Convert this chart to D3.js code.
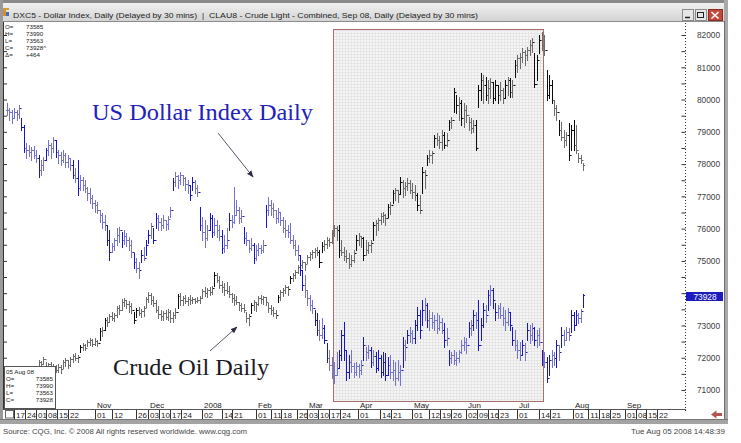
<!DOCTYPE html>
<html>
<head>
<meta charset="utf-8">
<script src="https://cdnjs.cloudflare.com/ajax/libs/d3/7.8.5/d3.min.js"></script>
<style>
  body { margin: 0; background: #fff; }
  svg { display: block; font-family: "Liberation Sans", Arial, sans-serif; }
</style>
</head>
<body>
<script>
'use strict';

// first daily bar and the first labelled day of the date axis
const firstBarDate = '2007-09-10';
const axisStartDate = '2007-09-17';
const axisEndIndex = 265; // trading days from axis start to 22 Sep 2008

// US Dollar Index (DXC5), daily, in thousands of index points
const usdHigh = [
  79.90,79.74,79.68,79.74,79.68,79.83,79.43,79.21,78.66,78.59,
  78.53,78.56,78.44,78.28,78.13,78.22,78.50,78.75,78.66,78.84,
  78.75,78.44,78.38,78.44,78.35,78.28,78.19,78.13,77.88,78.13,
  77.67,77.60,77.51,77.29,77.26,77.05,76.89,76.83,76.58,76.49,
  76.43,76.12,75.96,75.56,75.72,76.03,76.06,75.90,75.96,75.87,
  75.75,75.65,75.25,75.09,74.97,75.34,75.44,75.65,75.96,76.18,
  76.03,76.49,76.43,76.33,76.43,76.27,76.40,76.67,77.57,77.76,
  77.67,77.76,77.67,77.60,77.51,77.36,77.60,77.51,77.36,76.67,
  76.36,76.27,76.12,76.49,76.43,76.33,76.27,76.12,75.96,75.81,
  76.03,76.49,76.43,77.29,76.89,76.67,76.58,76.06,75.90,75.65,
  75.72,75.56,75.50,75.56,75.50,75.65,76.74,76.98,76.89,76.80,
  76.58,76.64,76.52,76.36,76.27,76.12,76.18,75.81,75.65,75.50,
  75.19,74.72,74.57,74.11,73.95,73.80,73.49,73.39,73.18,73.24,
  73.02,72.46,72.25,72.03,71.88,72.19,72.25,72.87,73.12,72.25,
  72.09,72.25,71.85,71.88,71.81,71.94,72.65,72.34,72.40,72.34,
  72.25,72.19,72.25,72.09,72.19,72.16,72.03,72.09,71.94,71.88,
  71.94,71.78,72.65,72.56,72.87,72.96,72.87,73.18,73.58,73.49,
  73.80,73.86,73.70,73.49,73.42,73.33,73.39,73.33,73.24,73.08,
  72.93,72.25,72.19,72.25,72.19,72.25,72.56,72.65,72.62,73.12,
  73.18,73.49,73.42,73.80,73.24,73.70,73.64,74.11,74.26,74.17,
  73.70,73.64,73.70,73.58,73.49,73.55,73.42,72.96,72.87,72.56,
  72.49,72.56,72.46,73.08,73.02,73.08,72.96,72.87,72.93,72.25,
  72.19,72.03,72.09,72.25,72.19,72.56,72.40,72.96,72.87,72.96,
  72.93,73.49,73.42,73.49,73.39,73.52,73.99
];
const usdLow = [
  79.52,79.37,79.28,79.43,79.37,79.43,79.06,78.38,78.19,78.25,
  78.13,78.19,78.07,77.60,77.67,77.82,78.13,78.28,78.19,78.38,
  78.22,78.04,77.98,78.07,77.91,77.91,77.82,77.57,77.45,77.05,
  77.20,77.20,77.14,76.89,76.80,76.64,76.52,76.49,76.21,76.03,
  75.96,75.50,75.03,75.28,75.34,75.50,75.59,75.44,75.53,75.47,
  75.34,75.12,74.78,74.66,74.47,74.97,75.03,75.19,75.56,75.72,
  75.56,76.03,75.96,75.96,76.03,75.96,75.99,76.36,77.20,77.33,
  77.26,77.39,77.36,77.20,77.11,76.89,77.20,77.11,77.02,75.96,
  75.65,75.44,75.65,75.96,75.75,75.81,75.75,75.65,75.25,75.28,
  75.40,75.96,76.06,76.18,76.43,76.18,76.21,75.56,75.50,75.28,
  75.34,74.94,75.03,75.19,75.25,75.28,76.06,76.43,76.43,76.36,
  76.18,76.21,76.12,75.90,75.75,75.75,75.56,75.40,75.19,75.03,
  74.57,74.11,73.89,73.64,73.49,73.39,73.02,72.71,72.56,72.62,
  72.46,71.88,71.63,71.38,71.22,71.47,71.69,71.94,71.94,71.32,
  71.38,71.57,71.41,71.47,71.41,71.50,71.94,71.94,72.00,71.72,
  71.78,71.57,71.63,71.41,71.47,71.32,71.47,71.38,71.32,71.16,
  71.32,71.16,71.72,71.94,72.46,72.49,72.46,72.46,72.87,72.62,
  73.02,73.18,72.96,72.87,72.93,72.87,72.77,72.87,72.77,72.34,
  72.40,71.78,71.85,71.81,71.78,71.88,72.16,72.25,72.16,72.65,
  72.71,72.87,72.93,72.25,72.56,72.96,73.12,73.49,73.64,73.55,
  73.18,73.24,73.24,73.02,72.87,73.02,72.87,72.40,72.25,72.00,
  71.94,72.09,71.94,72.56,72.46,72.56,72.40,72.34,72.40,71.78,
  71.72,71.26,71.47,71.72,71.78,71.72,71.94,72.34,72.40,72.56,
  72.56,72.80,72.87,73.02,73.08,73.12,73.56
];
const usdClose = [
  79.68,79.62,79.43,79.62,79.56,79.74,79.15,78.50,78.44,78.38,
  78.44,78.28,78.19,77.82,77.98,78.13,78.44,78.59,78.50,78.75,
  78.38,78.28,78.13,78.28,78.07,78.19,77.98,77.67,77.57,77.26,
  77.51,77.36,77.26,77.11,76.95,76.80,76.74,76.58,76.43,76.21,
  76.12,75.65,75.28,75.47,75.65,75.81,75.96,75.65,75.78,75.65,
  75.50,75.28,74.97,74.78,74.72,75.19,75.09,75.50,75.81,76.09,
  75.65,76.33,76.21,76.12,76.27,76.15,76.30,76.58,77.45,77.64,
  77.51,77.67,77.57,77.39,77.36,77.05,77.45,77.26,77.14,76.12,
  75.90,75.72,75.96,76.33,75.90,76.12,75.96,75.78,75.40,75.50,
  75.65,76.27,76.21,76.43,76.58,76.33,76.40,75.72,75.65,75.40,
  75.50,75.09,75.34,75.40,75.34,75.50,76.58,76.74,76.64,76.58,
  76.33,76.52,76.27,76.03,75.96,75.90,75.65,75.50,75.34,75.19,
  74.72,74.26,74.11,73.86,73.64,73.55,73.18,72.87,72.71,72.93,
  72.56,72.00,71.78,71.63,71.47,71.69,72.09,72.71,72.25,71.57,
  71.88,71.75,71.57,71.75,71.63,71.78,72.40,72.19,72.25,71.88,
  72.06,71.69,72.00,71.57,71.88,71.47,71.78,71.57,71.63,71.38,
  71.57,71.63,72.40,72.34,72.71,72.77,72.62,73.02,73.33,72.87,
  73.49,73.64,73.18,73.24,73.12,73.18,72.93,73.12,72.87,72.56,
  72.62,72.00,72.09,71.94,72.00,72.19,72.40,72.49,72.40,72.93,
  73.02,73.33,73.18,72.40,73.02,73.49,73.33,73.95,74.11,73.80,
  73.42,73.55,73.33,73.24,73.12,73.42,73.02,72.56,72.40,72.25,
  72.09,72.40,72.19,72.87,72.71,72.93,72.56,72.71,72.49,71.94,
  71.88,71.38,71.94,72.09,72.00,72.40,72.19,72.71,72.56,72.80,
  72.71,73.33,73.02,73.33,73.24,73.46,73.93
];

// Crude Light (CLAU8), daily, drawn on the same right-hand scale
const oilHigh = [
  71.60,71.62,71.58,71.52,71.60,71.64,71.58,71.50,71.60,71.64,
  71.58,71.66,71.70,71.94,71.91,72.03,71.88,71.85,71.88,71.81,
  71.78,71.81,71.78,71.94,72.00,71.94,72.03,72.12,72.16,72.09,
  72.40,72.46,72.43,72.56,72.62,72.59,72.62,72.56,72.93,72.96,
  73.24,73.27,73.36,73.42,73.39,73.61,73.64,73.83,73.86,73.80,
  73.77,73.70,73.42,73.55,73.58,73.52,73.61,73.89,74.04,74.01,
  73.92,73.80,73.61,73.49,73.46,73.49,73.52,73.49,73.42,73.55,
  73.98,74.01,73.92,73.95,73.89,73.95,73.89,73.86,73.89,73.92,
  74.14,74.20,74.17,74.20,74.23,74.66,74.63,74.54,74.38,74.32,
  74.35,74.23,74.01,73.98,73.92,73.73,73.70,73.67,73.42,73.36,
  73.70,73.80,73.73,73.92,73.95,73.92,73.89,73.70,73.64,73.58,
  73.49,73.95,74.11,74.17,74.26,74.23,74.54,74.63,74.72,74.88,
  74.94,75.03,74.97,75.19,75.28,75.34,75.40,75.44,75.34,75.59,
  75.65,75.75,75.72,75.96,76.12,76.09,76.12,75.65,75.44,75.34,
  75.25,75.19,75.34,75.81,75.87,75.78,75.75,75.65,75.59,75.65,
  76.21,76.27,76.33,76.49,76.52,76.46,76.77,76.83,77.20,77.26,
  77.20,77.60,77.51,77.45,77.57,77.51,77.42,77.36,77.11,77.05,
  77.91,77.82,78.28,78.44,78.41,78.90,78.97,78.87,79.06,79.00,
  78.97,79.37,79.46,80.36,80.14,80.08,79.99,79.90,79.83,79.46,
  79.43,79.37,79.37,80.45,80.82,80.76,80.70,80.61,80.67,80.55,
  80.61,80.45,80.55,80.36,80.61,80.70,80.67,80.61,81.23,81.38,
  81.44,81.60,81.54,81.63,81.85,81.91,81.44,81.38,82.00,82.09,
  82.00,80.92,80.76,80.61,79.99,79.83,79.37,79.31,79.06,79.00,
  79.28,79.21,79.37,79.21,78.35,78.28,78.04
];
const oilLow = [
  71.30,71.35,71.28,71.22,71.36,71.40,71.30,71.24,71.38,71.42,
  71.34,71.42,71.50,71.72,71.69,71.81,71.63,71.63,71.69,71.60,
  71.57,71.57,71.54,71.69,71.75,71.69,71.75,71.88,71.94,71.88,
  72.19,72.25,72.25,72.37,72.40,72.37,72.40,72.37,72.56,72.68,
  72.87,72.99,73.12,73.18,73.15,73.27,73.36,73.49,73.61,73.55,
  73.42,73.39,73.08,73.27,73.33,73.27,73.30,73.58,73.73,73.67,
  73.61,73.42,73.24,73.18,73.18,73.21,73.18,73.12,73.12,73.24,
  73.55,73.64,73.64,73.70,73.64,73.67,73.70,73.70,73.73,73.70,
  73.86,73.92,73.89,73.95,73.98,74.23,74.35,74.17,74.04,73.95,
  74.01,73.89,73.73,73.64,73.67,73.49,73.46,73.42,73.12,73.02,
  73.39,73.49,73.46,73.64,73.70,73.67,73.64,73.42,73.36,73.30,
  73.24,73.73,73.80,73.92,74.01,73.95,74.32,74.38,74.47,74.63,
  74.69,74.78,74.72,74.94,75.03,75.09,75.12,75.19,74.81,75.28,
  75.34,75.40,75.47,75.56,75.78,75.65,75.12,75.19,75.03,74.97,
  74.78,74.85,74.97,75.34,75.50,75.44,75.03,75.19,75.25,75.28,
  75.65,75.81,75.96,76.15,76.21,76.12,76.36,76.46,76.80,76.89,
  76.83,77.08,76.98,77.05,77.20,77.11,76.95,76.89,76.58,76.49,
  77.11,77.26,77.98,78.07,78.04,78.53,78.59,78.50,78.44,78.50,
  78.56,79.06,79.12,79.62,79.59,79.37,79.21,79.15,79.31,79.06,
  78.97,79.00,78.44,79.77,79.99,79.90,79.99,79.90,80.05,79.90,
  79.99,79.90,79.99,79.90,80.05,80.14,80.08,80.08,80.70,80.85,
  80.98,81.16,81.07,81.23,81.38,81.47,80.39,80.61,81.44,81.54,
  81.38,79.99,80.05,79.90,79.52,79.37,78.90,78.75,78.53,78.59,
  78.13,78.44,78.44,78.35,78.07,78.04,77.82
];
const oilClose = [
  71.48,71.55,71.40,71.45,71.55,71.50,71.36,71.44,71.56,71.52,
  71.48,71.62,71.66,71.88,71.81,71.97,71.75,71.81,71.75,71.69,
  71.63,71.72,71.66,71.88,71.94,71.78,71.97,72.06,72.00,72.03,
  72.34,72.40,72.31,72.49,72.56,72.43,72.53,72.46,72.84,72.87,
  73.18,73.12,73.30,73.24,73.33,73.55,73.49,73.73,73.80,73.67,
  73.61,73.49,73.18,73.49,73.39,73.46,73.55,73.83,73.95,73.80,
  73.70,73.49,73.36,73.30,73.39,73.27,73.42,73.24,73.33,73.42,
  73.92,73.80,73.86,73.77,73.83,73.80,73.83,73.77,73.80,73.86,
  74.08,74.01,74.11,74.04,74.17,74.57,74.41,74.26,74.20,74.11,
  74.08,73.98,73.86,73.80,73.73,73.64,73.55,73.49,73.24,73.30,
  73.64,73.73,73.67,73.86,73.83,73.89,73.73,73.55,73.49,73.39,
  73.33,73.89,74.04,74.11,74.20,74.14,74.48,74.57,74.66,74.81,
  74.88,74.97,74.91,75.12,75.22,75.28,75.34,75.28,74.97,75.47,
  75.53,75.65,75.59,75.87,76.03,75.96,75.34,75.28,75.16,75.09,
  74.91,75.03,75.25,75.65,75.78,75.72,75.19,75.34,75.50,75.56,
  76.12,76.18,76.27,76.40,76.43,76.33,76.67,76.74,77.11,77.20,
  77.08,77.45,77.26,77.33,77.42,77.20,77.14,77.05,76.74,76.58,
  77.76,77.67,78.19,78.28,78.35,78.81,78.75,78.69,78.90,78.59,
  78.75,79.31,79.37,80.24,79.83,79.89,79.43,79.68,79.52,79.31,
  79.12,79.21,78.50,80.30,80.61,80.45,80.14,80.36,80.55,80.05,
  80.45,80.14,80.30,80.05,80.45,80.61,80.24,80.45,81.07,81.29,
  81.32,81.47,81.38,81.54,81.69,81.78,80.48,81.23,81.85,81.69,
  81.54,80.14,80.45,79.99,79.74,79.62,79.06,78.84,78.75,78.90,
  78.28,79.06,78.59,78.44,78.19,78.13,77.98
];

// date axis
const dayTicks = [
  '2007-09-17','2007-09-24','2007-10-01','2007-10-08','2007-10-15','2007-10-22',
  '2007-11-01','2007-11-12','2007-11-26','2007-12-03','2007-12-10','2007-12-17','2007-12-24',
  '2008-01-02','2008-01-14','2008-01-21','2008-02-01','2008-02-11','2008-02-18','2008-02-26',
  '2008-03-03','2008-03-10','2008-03-17','2008-03-24','2008-04-01','2008-04-14','2008-04-21',
  '2008-05-01','2008-05-12','2008-05-19','2008-05-26','2008-06-02','2008-06-09','2008-06-16',
  '2008-06-23','2008-07-01','2008-07-14','2008-07-21','2008-08-01','2008-08-11','2008-08-18',
  '2008-08-25','2008-09-01','2008-09-08','2008-09-15','2008-09-22'
];
const monthTickDates = ['2007-11-01','2007-12-03','2008-01-02','2008-02-01','2008-03-03','2008-04-01',
  '2008-05-01','2008-06-02','2008-07-01','2008-08-01','2008-09-01'];
const monthTickLabels = ['Nov','Dec','2008','Feb','Mar','Apr','May','Jun','Jul','Aug','Sep'];

// shaded period
const highlightDates = ['2008-03-13', '2008-07-14'];

// readouts
const titleLeft = 'DXC5 - Dollar Index, Daily (Delayed by 30 mins)';
const titleRight = 'CLAU8 - Crude Light - Combined, Sep 08, Daily (Delayed by 30 mins)';
const cursorLabels = ['O=', 'H=', 'L=', 'C=', '\u0394='];
const cursorValues = ['73585', '73990', '73563', '73928^', ' +464'];
const boxDate = '05  Aug  08';
const boxLabels = ['O=', 'H=', 'L=', 'C='];
const boxValues = ['73585', '73990', '73563', '73928'];
const lastUsdValue = 73.928;
const sourceText = 'Source: CQG, Inc. \u00a9 2008 All rights reserved worldwide. www.cqg.com';
const stampText = 'Tue Aug 05 2008 14:48:39';

// annotations, in (trading day, value)
const usdNote = { text: 'US Dollar Index Daily', t: 29.9, v: 79.37 };
const usdArrow = [[81.5, 78.96], [95.8, 77.6]];
const oilNote = { text: 'Crude Oil Daily', t: 38.5, v: 71.46 };
const oilArrow = [[78.2, 72.21], [89.2, 72.95]];

const width = 741, height = 443;
const plotTop = 22, plotBottom = 409, axisX = 685, frameRight = 724;

const parseDate = d3.timeParse('%Y-%m-%d');
const isWeekday = d => d.getDay() !== 0 && d.getDay() !== 6;
const axisStart = parseDate(axisStartDate);

function tradingIndex(date) {
  if (date >= axisStart) return d3.timeDay.range(axisStart, date).filter(isWeekday).length;
  return -d3.timeDay.range(date, axisStart).filter(isWeekday).length;
}

const firstBar = parseDate(firstBarDate);
const barDates = d3.timeDay.range(firstBar, d3.timeDay.offset(firstBar, 400))
  .filter(isWeekday).slice(0, usdClose.length);

const xScale = d3.scaleLinear().domain([0, axisEndIndex]).range([19, 19 + axisEndIndex * 2.443]);
const yScale = d3.scaleLinear().domain([71, 82]).range([390, 35]);

const svg = d3.select('body').append('svg')
  .attr('width', width)
  .attr('height', height);

const defs = svg.append('defs');
const titleGrad = defs.append('linearGradient').attr('id', 'titleGrad')
  .attr('x1', 0).attr('y1', 0).attr('x2', 0).attr('y2', 1);
titleGrad.append('stop').attr('offset', '0%').attr('stop-color', '#f1f1f1');
titleGrad.append('stop').attr('offset', '100%').attr('stop-color', '#d3d3d3');

const grid = defs.append('pattern').attr('id', 'dotGrid')
  .attr('width', 3).attr('height', 3).attr('patternUnits', 'userSpaceOnUse');
grid.append('rect').attr('width', 3).attr('height', 3).attr('fill', '#f6f6f6');
grid.append('rect').attr('width', 3).attr('height', 1).attr('fill', '#e5e5e5');
grid.append('rect').attr('width', 1).attr('height', 3).attr('fill', '#e5e5e5');

defs.append('marker').attr('id', 'head')
  .attr('viewBox', '0 0 10 10').attr('refX', 9).attr('refY', 5)
  .attr('markerWidth', 7).attr('markerHeight', 7)
  .attr('markerUnits', 'userSpaceOnUse').attr('orient', 'auto')
  .append('path').attr('d', 'M0,1 L10,5 L0,9 z').attr('fill', '#2b2b45');

// ---------- window chrome ----------
svg.append('rect').attr('x', 0).attr('y', 0).attr('width', frameRight + 4).attr('height', 3).attr('fill', '#8a8a8a');
svg.append('rect').attr('x', 0).attr('y', 3).attr('width', frameRight + 4).attr('height', 18).attr('fill', 'url(#titleGrad)');
svg.append('line').attr('x1', 0).attr('x2', frameRight + 4).attr('y1', 21.5).attr('y2', 21.5).attr('stroke', '#8c8c8c');

// title icon
svg.append('rect').attr('x', 3).attr('y', 10).attr('width', 3).attr('height', 6).attr('fill', '#e08a2a');
svg.append('rect').attr('x', 6).attr('y', 12).attr('width', 3).attr('height', 4).attr('fill', '#3a6fc0');
svg.append('rect').attr('x', 3).attr('y', 8).attr('width', 6).attr('height', 2).attr('fill', '#c8a040');

svg.append('text').attr('x', 13).attr('y', 17.5).attr('font-size', 8)
  .attr('textLength', 184).attr('lengthAdjust', 'spacingAndGlyphs')
  .attr('fill', '#1e1e1e').text(titleLeft);
svg.append('text').attr('x', 202).attr('y', 17.5).attr('font-size', 8).attr('fill', '#1e1e1e').text('|');
svg.append('text').attr('x', 209).attr('y', 17.5).attr('font-size', 8)
  .attr('textLength', 269).attr('lengthAdjust', 'spacingAndGlyphs')
  .attr('fill', '#1e1e1e').text(titleRight);

// window buttons
[[682, '#e6e6e6'], [695, '#e6e6e6'], [708, '#c4483c']].forEach(function(b, k) {
  svg.append('rect').attr('x', b[0] + 0.5).attr('y', 9.5).attr('width', k === 2 ? 14 : 11).attr('height', 11)
    .attr('fill', b[1]).attr('stroke', k === 2 ? '#8a2a22' : '#8c8c8c');
});
svg.append('line').attr('x1', 685).attr('x2', 690).attr('y1', 17.5).attr('y2', 17.5).attr('stroke', '#222').attr('stroke-width', 1.5);
svg.append('rect').attr('x', 697.5).attr('y', 12.5).attr('width', 6).attr('height', 5).attr('fill', 'none').attr('stroke', '#222');
svg.append('path').attr('d', 'M711.5,12 L718.5,18.5 M718.5,12 L711.5,18.5').attr('stroke', '#fff').attr('stroke-width', 1.6);

// frame borders
svg.append('rect').attr('x', 0).attr('y', 0).attr('width', 3).attr('height', 424).attr('fill', '#9a9a9a');
svg.append('rect').attr('x', frameRight).attr('y', 0).attr('width', 4).attr('height', 424).attr('fill', '#a9a9a9');
svg.append('line').attr('x1', frameRight + 0.5).attr('x2', frameRight + 0.5).attr('y1', 21).attr('y2', 421).attr('stroke', '#6e6e6e');
svg.append('rect').attr('x', 0).attr('y', 419).attr('width', frameRight + 4).attr('height', 5).attr('fill', '#a3a3a3');
svg.append('line').attr('x1', 0).attr('x2', frameRight + 4).attr('y1', 419.5).attr('y2', 419.5).attr('stroke', '#777');

// ---------- shaded period ----------
const hx0 = xScale(tradingIndex(parseDate(highlightDates[0])) + 0.5);
const hx1 = xScale(tradingIndex(parseDate(highlightDates[1])) - 0.5);
svg.append('rect')
  .attr('x', Math.round(hx0) + 0.5).attr('y', 29.5)
  .attr('width', Math.round(hx1 - hx0)).attr('height', 372)
  .attr('fill', 'url(#dotGrid)').attr('stroke', '#a8706c');

// ---------- axes ----------
const halfSteps = d3.range(71, 82.01, 0.5);
const tagY = yScale(lastUsdValue);

svg.append('line').attr('x1', 3.5).attr('x2', 3.5).attr('y1', plotTop).attr('y2', plotBottom).attr('stroke', '#333');
svg.append('g').attr('transform', 'translate(4,0)')
  .call(d3.axisRight(yScale).tickValues(halfSteps).tickSize(3).tickFormat(''))
  .call(g => g.select('.domain').remove())
  .call(g => g.selectAll('line').attr('stroke', '#333'));

svg.append('line').attr('x1', axisX + 0.5).attr('x2', axisX + 0.5).attr('y1', plotTop + 1).attr('y2', 411)
  .attr('stroke', '#333').attr('stroke-dasharray', '1,2');
svg.append('g').attr('transform', 'translate(' + (axisX + 0.5) + ',0)')
  .call(d3.axisLeft(yScale).tickValues(halfSteps).tickSize(4).tickFormat(''))
  .call(g => g.select('.domain').remove())
  .call(g => g.selectAll('line').attr('stroke', '#333'));

// the label hidden under the last-value tag is left out
const labelValues = d3.range(71, 83).filter(v => Math.abs(yScale(v) - tagY) > 8);
svg.append('g').attr('transform', 'translate(' + axisX + ',0)')
  .call(d3.axisRight(yScale).tickValues(labelValues).tickSize(0).tickPadding(12)
    .tickFormat(d => String(Math.round(d * 1000))))
  .call(g => g.select('.domain').remove())
  .call(g => g.attr('font-size', 8.3).attr('font-family', null))
  .call(g => g.selectAll('text').attr('fill', '#3c3c3c').attr('dy', '0.34em'));

// last value tag
svg.append('rect').attr('x', axisX + 1).attr('y', Math.round(tagY) - 4).attr('width', 37).attr('height', 9).attr('fill', '#1d1dbf');
svg.append('text').attr('x', axisX + 20).attr('y', Math.round(tagY) + 3.5).attr('text-anchor', 'middle')
  .attr('font-size', 8.3).attr('fill', '#fff').text(String(Math.round(lastUsdValue * 1000)));

// ---------- bars ----------
function makeBars(high, low, close) {
  return close.map(function(c, i) {
    return {
      t: tradingIndex(barDates[i]),
      o: i > 0 ? close[i - 1] : c,
      h: high[i],
      l: low[i],
      c: c
    };
  });
}

function drawBars(rows, light, dark) {
  const px = v => Math.round(yScale(v)) + 0.5;
  svg.append('g').attr('fill', 'none').attr('stroke-width', 1)
    .selectAll('path')
    .data(rows)
    .enter()
    .append('path')
      .attr('d', function(d) {
        const x = Math.round(xScale(d.t)) + 0.5;
        return 'M' + x + ',' + (px(d.h) - 0.5) + 'V' + (px(d.l) + 0.5) +
          'M' + (x - 1.5) + ',' + px(d.o) + 'H' + x +
          'M' + x + ',' + px(d.c) + 'H' + (x + 1.5);
      })
      .attr('stroke', d => Math.abs(d.c - d.o) >= 0.3 ? dark : light);
}

drawBars(makeBars(oilHigh, oilLow, oilClose), '#6b6b6b', '#0c0c0c');
drawBars(makeBars(usdHigh, usdLow, usdClose), '#7474cf', '#1616c6');

// ---------- cursor readout ----------
const readout = svg.append('g').attr('font-size', 6.2).attr('fill', '#222');
cursorLabels.forEach(function(lab, k) {
  readout.append('text').attr('x', 5).attr('y', 28.5 + k * 7).text(lab);
  readout.append('text').attr('x', 26).attr('y', 28.5 + k * 7).text(cursorValues[k]);
});

// ---------- date axis ----------
svg.append('rect').attr('x', 4).attr('y', 409).attr('width', axisX - 4).attr('height', 10).attr('fill', '#fff');
svg.append('line').attr('x1', 3).attr('x2', axisX + 1).attr('y1', 409.5).attr('y2', 409.5).attr('stroke', '#555');
svg.append('rect').attr('x', 5.5).attr('y', 410.5).attr('width', 8).attr('height', 7.5).attr('fill', '#fff').attr('stroke', '#666');

const monthSet = new Set(monthTickDates);
let prevPos = null, prevIdx = null;
const dayPos = dayTicks.map(function(s) {
  const idx = tradingIndex(parseDate(s));
  let pos = xScale(idx);
  if (!monthSet.has(s) && prevIdx !== null && idx - prevIdx <= 5) pos = prevPos + 10.8;
  prevPos = pos; prevIdx = idx;
  return pos;
});

const dayAxis = svg.append('g').attr('font-size', 8).attr('fill', '#222');
dayTicks.forEach(function(s, k) {
  const x = Math.round(dayPos[k]);
  dayAxis.append('line').attr('x1', x - 4.5).attr('x2', x - 4.5).attr('y1', 410).attr('y2', 419)
    .attr('stroke', '#333');
  dayAxis.append('text').attr('x', x + 1.5).attr('y', 417.5).attr('text-anchor', 'middle')
    .text(d3.timeFormat('%d')(parseDate(s)));
});
monthTickDates.forEach(function(s, k) {
  const x = Math.round(dayPos[dayTicks.indexOf(s)]);
  dayAxis.append('text').attr('x', x - 3).attr('y', 408).text(monthTickLabels[k]);
});

// red scroll arrow
svg.append('path').attr('d', 'M711,414.5 L716.5,410.5 L716.5,413 L722,413 L722,416 L716.5,416 L716.5,418.5 Z')
  .attr('fill', '#b5554f');

// ---------- data box ----------
const box = svg.append('g').attr('font-size', 6.2).attr('fill', '#222');
box.append('rect').attr('x', 4.5).attr('y', 366.5).attr('width', 51).attr('height', 42)
  .attr('fill', '#fff').attr('stroke', '#555');
box.append('text').attr('x', 6).attr('y', 373.5).text(boxDate);
boxLabels.forEach(function(lab, k) {
  box.append('text').attr('x', 6).attr('y', 381 + k * 7).text(lab);
  box.append('text').attr('x', 53).attr('y', 381 + k * 7).attr('text-anchor', 'end').text(boxValues[k]);
});

// ---------- annotations ----------
svg.append('text')
  .attr('x', xScale(usdNote.t)).attr('y', yScale(usdNote.v))
  .attr('font-family', '"Liberation Serif", "Times New Roman", serif')
  .attr('font-size', 23).attr('fill', '#2222bb')
  .attr('textLength', 221).attr('lengthAdjust', 'spacingAndGlyphs')
  .text(usdNote.text);
svg.append('line')
  .attr('x1', xScale(usdArrow[0][0])).attr('y1', yScale(usdArrow[0][1]))
  .attr('x2', xScale(usdArrow[1][0])).attr('y2', yScale(usdArrow[1][1]))
  .attr('stroke', '#2b2b45').attr('stroke-width', 0.8).attr('marker-end', 'url(#head)');

svg.append('text')
  .attr('x', xScale(oilNote.t)).attr('y', yScale(oilNote.v))
  .attr('font-family', '"Liberation Serif", "Times New Roman", serif')
  .attr('font-size', 23).attr('fill', '#1a1a24')
  .attr('textLength', 156).attr('lengthAdjust', 'spacingAndGlyphs')
  .text(oilNote.text);
svg.append('line')
  .attr('x1', xScale(oilArrow[0][0])).attr('y1', yScale(oilArrow[0][1]))
  .attr('x2', xScale(oilArrow[1][0])).attr('y2', yScale(oilArrow[1][1]))
  .attr('stroke', '#2b2b45').attr('stroke-width', 0.8).attr('marker-end', 'url(#head)');

// ---------- footer ----------
svg.append('text').attr('x', 3).attr('y', 434).attr('font-size', 7.6).attr('fill', '#444')
  .attr('textLength', 244).attr('lengthAdjust', 'spacingAndGlyphs').text(sourceText);
svg.append('text').attr('x', 725).attr('y', 434).attr('font-size', 8).attr('fill', '#444')
  .attr('text-anchor', 'end').text(stampText);
</script>
</body>
</html>
